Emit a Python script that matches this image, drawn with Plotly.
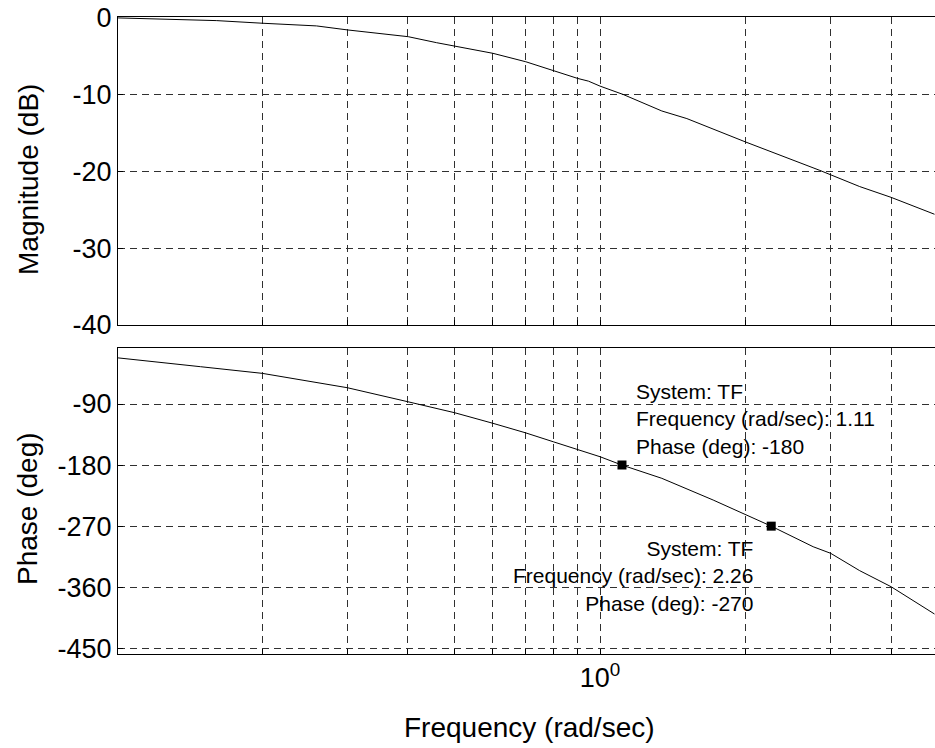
import numpy as np
import plotly.graph_objects as go
from plotly.subplots import make_subplots

# Bode magnitude curve (rad/sec, dB)
freq_mag = [0.1006, 0.127, 0.161, 0.2, 0.259, 0.3, 0.401, 0.459, 0.5, 0.53, 0.6,
            0.702, 0.802, 0.899, 0.946, 1.0, 1.117, 1.342, 1.512, 2.0, 2.85,
            3.445, 4.0, 4.92]
mag_db = [-0.07, -0.23, -0.42, -0.76, -1.11, -1.63, -2.51, -3.29, -3.72, -4.02, -4.67,
          -5.77, -6.98, -7.94, -8.29, -8.94, -10.03, -12.17, -13.16, -16.2, -19.9,
          -22.0, -23.4, -25.6]

# Bode phase curve (rad/sec, deg)
freq_phase = [0.1006, 0.1117, 0.149, 0.2, 0.3, 0.4, 0.5, 0.6, 0.7, 0.8, 0.9, 1.0,
              1.11, 1.342, 1.714, 2.0, 2.26, 2.76, 3.0, 3.445, 4.0, 4.92]
phase_deg = [-22.0, -25.2, -35.0, -44.8, -66.0, -86.6, -102.8, -118.4, -132.3,
             -145.6, -156.8, -167.7, -180.0, -199.5, -231.5, -253.6, -270.0,
             -300.3, -310.0, -335.6, -359.2, -399.5]

# Data tips
tip_freq = [1.11, 2.26]
tip_phase = [-180, -270]

mag_ticks = [-40, -30, -20, -10, 0]
phase_ticks = [-450, -360, -270, -180, -90]
freq_grid = [0.2, 0.3, 0.4, 0.5, 0.6, 0.7, 0.8, 0.9, 1, 2, 3, 4]
freq_labels = ["" if f != 1 else "10<sup>0</sup>" for f in freq_grid]

FONT = "Liberation Sans, Arial, sans-serif"
GRID = "#303030"
DASH = "7px,5px"

fig = make_subplots(rows=2, cols=1, shared_xaxes=True, vertical_spacing=0.0)

fig.add_trace(go.Scatter(x=freq_mag, y=mag_db, mode="lines",
                         line=dict(color="black", width=1), showlegend=False),
              row=1, col=1)
fig.add_trace(go.Scatter(x=freq_phase, y=phase_deg, mode="lines",
                         line=dict(color="black", width=1), showlegend=False),
              row=2, col=1)
fig.add_trace(go.Scatter(x=tip_freq, y=tip_phase, mode="markers",
                         marker=dict(symbol="square", size=9, color="black"),
                         showlegend=False),
              row=2, col=1)

W, H = 935, 748
L, R, T, B = 118, 0, 17, 94
plot_h = H - T - B
top_dom = [(654 - 325) / plot_h, 1.0]
bot_dom = [0.0, (654 - 347.7) / plot_h]

xcommon = dict(type="log", range=[-0.9975, 0.693], tickvals=freq_grid,
               showline=True, linecolor="black", linewidth=1, mirror=True,
               showgrid=True, gridcolor=GRID, gridwidth=1, griddash=DASH,
               ticks="inside", ticklen=5, tickcolor="black",
               tickfont=dict(family=FONT, size=27, color="black"), zeroline=False)

fig.update_xaxes(**xcommon, ticktext=["" for _ in freq_grid], showticklabels=False,
                 row=1, col=1)
fig.update_xaxes(**xcommon, ticktext=freq_labels, showticklabels=True, row=2, col=1)

ycommon = dict(showline=True, linecolor="black", linewidth=1, mirror=False,
               showgrid=True, gridcolor=GRID, gridwidth=1, griddash=DASH,
               ticks="inside", ticklen=5, tickcolor="black", zeroline=False,
               tickfont=dict(family=FONT, size=27, color="black"))
fig.update_yaxes(**ycommon, range=[-40, 0.05], tickvals=mag_ticks,
                 ticktext=[str(v) for v in mag_ticks], domain=top_dom, row=1, col=1)
fig.update_yaxes(**ycommon, range=[-458.4, -7], tickvals=phase_ticks,
                 ticktext=[str(v) for v in phase_ticks], domain=bot_dom, row=2, col=1)


def px_x(px):
    return (px - L) / (W - L - R)


def px_y(py):
    return (654 - py) / plot_h


annotations = [
    dict(text="Magnitude (dB)", xref="paper", yref="paper", x=px_x(28), y=px_y(180),
         textangle=-90, showarrow=False, xanchor="center", yanchor="middle",
         font=dict(family=FONT, size=28, color="black")),
    dict(text="Phase (deg)", xref="paper", yref="paper", x=px_x(28), y=px_y(509),
         textangle=-90, showarrow=False, xanchor="center", yanchor="middle",
         font=dict(family=FONT, size=28, color="black")),
    dict(text="Frequency (rad/sec)", xref="paper", yref="paper", x=px_x(529),
         y=px_y(727), showarrow=False, xanchor="center", yanchor="middle",
         font=dict(family=FONT, size=28, color="black")),
    dict(text=("System: TF<br>Frequency (rad/sec): %.2f<br>Phase (deg): %d"
               % (tip_freq[0], tip_phase[0])),
         xref="x2", yref="y2", x=np.log10(tip_freq[0]), y=tip_phase[0],
         showarrow=False, xanchor="left", yanchor="bottom", align="left",
         xshift=12, yshift=5, font=dict(family=FONT, size=21, color="black")),
    dict(text=("System: TF<br>Frequency (rad/sec): %.2f<br>Phase (deg): %d"
               % (tip_freq[1], tip_phase[1])),
         xref="x2", yref="y2", x=np.log10(tip_freq[1]), y=tip_phase[1],
         showarrow=False, xanchor="right", yanchor="top", align="right",
         xshift=-16, yshift=-9, font=dict(family=FONT, size=21, color="black")),
]

fig.update_layout(width=W, height=H, margin=dict(l=L, r=R, t=T, b=B),
                  paper_bgcolor="white", plot_bgcolor="white",
                  annotations=annotations, font=dict(family=FONT, color="black"))

fig.write_html("out.html")
